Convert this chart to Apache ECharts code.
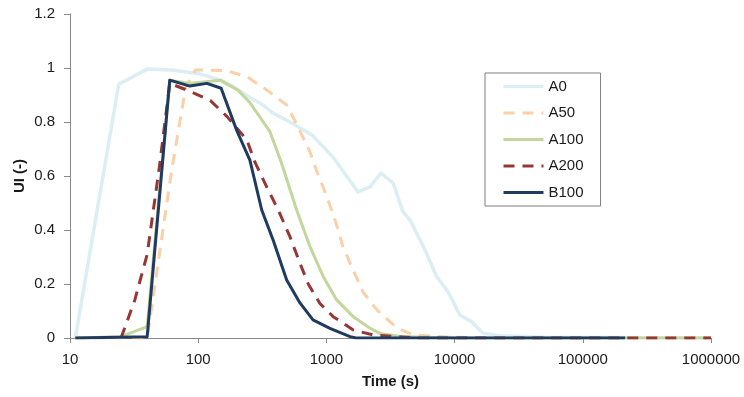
<!DOCTYPE html>
<html>
<head>
<meta charset="utf-8">
<script src="https://cdn.jsdelivr.net/npm/echarts@6/dist/echarts.min.js"></script>
<style>
html,body{margin:0;padding:0;background:#fff;}
#chart{width:744px;height:397px;}
</style>
</head>
<body>
<div id="chart"></div>
<script>
var seriesNames = ['A0', 'A50', 'A100', 'A200', 'B100'];

var a0Time = [11, 24, 40, 61, 100, 150, 190, 250, 320, 383, 520, 773, 1124, 1766, 2190, 2666, 3310, 3954, 4490, 5890, 7244, 8900, 11000, 13600, 16600, 22800, 50000, 1000000];
var a0Values = [0, 0.94, 0.996, 0.993, 0.98, 0.955, 0.93, 0.893, 0.863, 0.833, 0.8, 0.752, 0.67, 0.541, 0.56, 0.611, 0.574, 0.468, 0.437, 0.326, 0.227, 0.171, 0.085, 0.06, 0.018, 0.008, 0.003, 0];

var a50Time = [11, 40, 62, 80, 95, 167, 240, 344, 490, 590, 745, 845, 1010, 1168, 1350, 1614, 1931, 2478, 3550, 4800, 8700, 20000, 1000000];
var a50Values = [0, 0, 0.62, 0.93, 0.993, 0.99, 0.968, 0.918, 0.863, 0.789, 0.689, 0.615, 0.522, 0.437, 0.337, 0.252, 0.17, 0.104, 0.037, 0.011, 0.004, 0, 0];

var a100Time = [11, 25, 40, 60, 86, 148, 204, 253, 363, 445, 586, 745, 946, 1203, 1620, 2190, 2620, 3750, 10000, 1000000];
var a100Values = [0, 0.005, 0.042, 0.955, 0.943, 0.955, 0.918, 0.872, 0.764, 0.65, 0.474, 0.338, 0.227, 0.141, 0.079, 0.036, 0.017, 0.006, 0, 0];

var a200Time = [25, 32, 40, 50, 60, 82, 124, 168, 240, 276, 342, 421, 520, 622, 722, 890, 1130, 1620, 2320, 5000, 1000000];
var a200Values = [0, 0.14, 0.31, 0.64, 0.943, 0.918, 0.88, 0.82, 0.733, 0.653, 0.56, 0.474, 0.375, 0.277, 0.2, 0.128, 0.079, 0.03, 0.011, 0, 0];

var b100Time = [11, 40, 60, 86, 117, 151, 200, 253, 313, 384, 490, 622, 786, 1066, 1530, 1700, 214000];
var b100Values = [0, 0.005, 0.955, 0.933, 0.943, 0.925, 0.768, 0.659, 0.474, 0.363, 0.215, 0.13, 0.067, 0.036, 0.005, 0, 0];

var xTickValues = [10, 100, 1000, 10000, 100000, 1000000];
var yTickValues = [0, 0.2, 0.4, 0.6, 0.8, 1, 1.2];

function pairs(t, v) { return t.map(function (x, i) { return [x, v[i]]; }); }

var allData = [
  pairs(a0Time, a0Values),
  pairs(a50Time, a50Values),
  pairs(a100Time, a100Values),
  pairs(a200Time, a200Values),
  pairs(b100Time, b100Values)
];
var styles = [
  {color: '#dbeef4', width: 3.5, type: 'solid'},
  {color: '#fbcfa7', width: 3, type: [11, 8]},
  {color: '#c3d69b', width: 3, type: 'solid'},
  {color: '#953735', width: 3, type: [11, 8]},
  {color: '#1f3b60', width: 3, type: 'solid'}
];

var FONT = 'Liberation Sans, Arial, sans-serif';
var chart = echarts.init(document.getElementById('chart'), null, {renderer: 'canvas'});
chart.setOption({
  animation: false,
  backgroundColor: '#fff',
  grid: {left: 70, right: 33, top: 14, bottom: 59, containLabel: false},
  legend: {
    orient: 'vertical',
    left: 485, top: 73,
    padding: [6, 17, 6, 17],
    itemWidth: 40, itemHeight: 14, itemGap: 11.5,
    borderColor: '#7f7f7f', borderWidth: 1,
    backgroundColor: '#fff',
    itemStyle: {opacity: 0},
    lineStyle: {width: 3},
    textStyle: {fontFamily: FONT, fontSize: 15, color: '#1a1a1a'},
    data: seriesNames
  },
  xAxis: {
    type: 'log', logBase: 10, min: 10, max: 1000000,
    name: 'Time (s)', nameLocation: 'middle', nameGap: 36,
    nameTextStyle: {fontFamily: FONT, fontSize: 15, fontWeight: 'bold', color: '#1a1a1a'},
    axisLine: {lineStyle: {color: '#898989', width: 1}},
    axisTick: {show: true, inside: false, length: 5, lineStyle: {color: '#898989'}},
    minorTick: {show: false},
    splitLine: {show: false},
    axisLabel: {fontFamily: FONT, fontSize: 15, color: '#1a1a1a', margin: 14,
      formatter: function (v) { return String(Math.round(v)); }}
  },
  yAxis: {
    type: 'value', min: 0, max: 1.2, interval: 0.2,
    name: 'UI (-)', nameLocation: 'middle', nameGap: 43, nameRotate: 90,
    nameMoveOverlap: false,
    nameTextStyle: {fontFamily: FONT, fontSize: 15, fontWeight: 'bold', color: '#1a1a1a'},
    axisLine: {show: true, lineStyle: {color: '#898989', width: 1}},
    axisTick: {show: true, inside: false, length: 6, lineStyle: {color: '#898989'}},
    splitLine: {show: false},
    axisLabel: {fontFamily: FONT, fontSize: 15, color: '#1a1a1a', margin: 15,
      formatter: function (v) { return String(+v.toFixed(1)); }}
  },
  series: seriesNames.map(function (n, i) {
    return {
      name: n, type: 'line', data: allData[i],
      showSymbol: false, symbol: 'none', smooth: false,
      color: styles[i].color,
      lineStyle: {color: styles[i].color, width: styles[i].width, type: styles[i].type, cap: 'butt', join: 'round'},
      z: 2 + i
    };
  })
});
</script>
</body>
</html>
